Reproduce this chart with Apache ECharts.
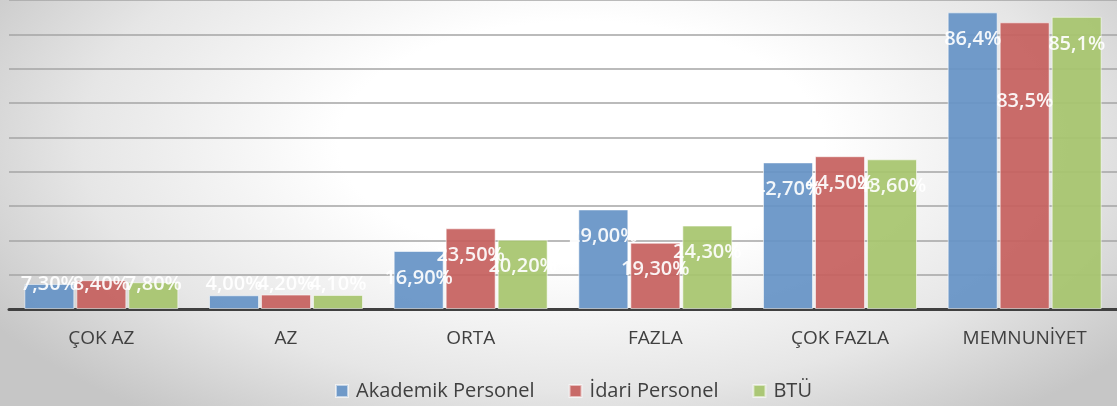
<!DOCTYPE html>
<html>
<head>
<meta charset="utf-8">
<script src="https://cdn.jsdelivr.net/npm/echarts@6/dist/echarts.min.js"></script>
<style>
  html, body { margin: 0; padding: 0; }
  #chart {
    width: 1117px;
    height: 406px;
    background: radial-gradient(ellipse 62% 85% at 52% 35%, #ffffff 35%, #e6e6e6 72%, #c6c6c6 100%);
  }
</style>
</head>
<body>
<div id="chart"></div>
<script>
const categories = ["ÇOK AZ", "AZ", "ORTA", "FAZLA", "ÇOK FAZLA", "MEMNUNİYET"];
const akademik = [7.3, 4.0, 16.9, 29.0, 42.7, 86.4];
const idari = [8.4, 4.2, 23.5, 19.3, 44.5, 83.5];
const btu = [7.8, 4.1, 20.2, 24.3, 43.6, 85.1];
// number of decimals shown in each category's labels
const decimals = [2, 2, 2, 2, 2, 1];

const chart = echarts.init(document.getElementById("chart"));

const fmt = (v, i) => v.toFixed(decimals[i]).replace(".", ",") + "%";

// label placement: short bars get their label lifted, the rest sit inside the top
function items(values, extraDistance) {
  return values.map((v, i) => {
    const label = v < 10
      ? { position: "insideBottom", distance: 15 }
      : { position: "insideTop", distance: 17 + (extraDistance[i] || 0) };
    return { value: v, label: label };
  });
}

function series(name, color, values, extra) {
  return {
    name: name,
    type: "bar",
    barWidth: 50,
    barGap: "4%",
    itemStyle: { color: color, opacity: 0.92, borderColor: "rgba(255,255,255,0.6)", borderWidth: 1 },
    label: {
      show: true,
      color: "#ffffff",
      fontFamily: "Open Sans",
      fontWeight: 600,
      fontSize: 20,
      formatter: (p) => fmt(p.value, p.dataIndex),
    },
    data: items(values, extra || {}),
  };
}

const option = {
  animation: false,
  backgroundColor: "transparent",
  textStyle: { fontFamily: "Open Sans" },
  grid: { left: 9, right: -1, top: -2, bottom: 97 },
  legend: {
    bottom: 0,
    left: 330,
    itemWidth: 12,
    itemHeight: 12,
    itemGap: 34,
    icon: "rect",
    textStyle: { color: "#404040", fontSize: 20, fontFamily: "Open Sans", padding: [0, 0, 0, 3] },
  },
  xAxis: {
    type: "category",
    data: categories,
    axisLine: { lineStyle: { color: "#404040", width: 3 } },
    axisTick: { show: false },
    axisLabel: { color: "#404040", fontSize: 19, margin: 20, fontFamily: "Open Sans" },
  },
  yAxis: {
    type: "value",
    min: 0,
    max: 90,
    interval: 10,
    axisLabel: { show: false },
    axisLine: { show: false },
    axisTick: { show: false },
    splitLine: { lineStyle: { color: "#a4a4a4", width: 1.5 } },
  },
  series: [
    series("Akademik Personel", "#6592c6", akademik),
    series("İdari Personel", "#c65f5d", idari, { 5: 52 }),
    series("BTÜ", "#a6c46c", btu),
  ],
};

chart.setOption(option);
</script>
</body>
</html>
